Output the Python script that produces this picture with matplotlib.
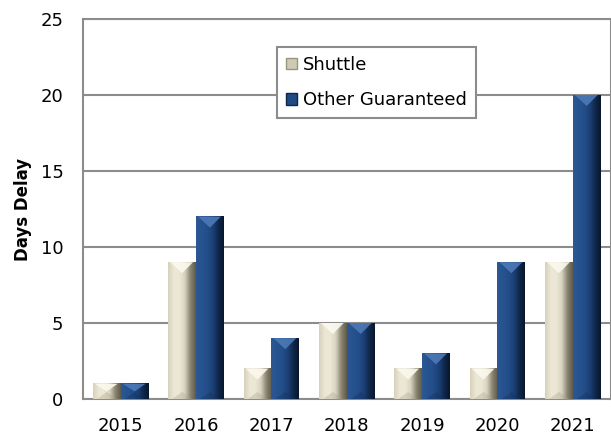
import matplotlib
matplotlib.use('agg')
import matplotlib.pyplot as plt
from matplotlib.colors import LinearSegmentedColormap
from matplotlib.patches import Polygon, Patch
import numpy as np

years = ['2015', '2016', '2017', '2018', '2019', '2020', '2021']
shuttle = [1, 9, 2, 5, 2, 2, 9]
other_guaranteed = [1, 12, 4, 5, 3, 9, 20]

plt.rcParams['font.family'] = ['DejaVu Sans']

fig = plt.figure(figsize=(6.11, 4.37), dpi=100)
ax = fig.add_axes([83/611, 38/437, 527.5/611, 380/437])
ax.set_xlim(-0.5, 6.5)
ax.set_ylim(0, 25)

x = np.arange(len(years))
w = 0.37

# shading stops across a bar, left to right
shuttle_cmap = LinearSegmentedColormap.from_list(
    'sh', ['#d6d1bb', '#ebe7d4', '#ece8d6', '#d9d4bf', '#8c8772', '#5f5b4a'])
blue_cmap = LinearSegmentedColormap.from_list(
    'bl', ['#2d5893', '#26538f', '#234e8a', '#1c4177', '#10284c', '#08172d'])
styles = {
    'Shuttle': (shuttle_cmap, '#fbf9ef', '#a8a38c'),
    'Other Guaranteed': (blue_cmap, '#4d79b6', '#132f58'),
}

# pixel -> data conversion for the bevel size
px_x = 1.0 / (ax.transData.transform((1, 0))[0] - ax.transData.transform((0, 0))[0])
px_y = 1.0 / (ax.transData.transform((0, 1))[1] - ax.transData.transform((0, 0))[1])

grad = np.linspace(0, 1, 64).reshape(1, -1)


def bevel_bars(xpos, vals, name):
    cmap, top_col, bot_col = styles[name]
    bars = ax.bar(xpos, vals, w, color='none', edgecolor='none', zorder=3)
    for b in bars:
        x0, bw, h = b.get_x(), b.get_width(), b.get_height()
        x1, xc = x0 + bw, x0 + bw / 2
        ax.imshow(grad, cmap=cmap, aspect='auto', extent=(x0, x1, 0, h),
                  zorder=3, interpolation='bilinear')
        d = min(11 * px_y, h / 2)
        ax.add_patch(Polygon([(x0 + 2*px_x, h), (x1 - 3*px_x, h), (xc, h - d)],
                             closed=True, facecolor=top_col, edgecolor='none',
                             alpha=0.9, zorder=4))
        ax.add_patch(Polygon([(x0 + 4*px_x, 0), (x1 - 4*px_x, 0), (xc, min(7 * px_y, h / 2))],
                             closed=True, facecolor=bot_col, edgecolor='none',
                             alpha=0.35, zorder=4))


bevel_bars(x - w / 2, shuttle, 'Shuttle')
bevel_bars(x + w / 2, other_guaranteed, 'Other Guaranteed')
ax.set_xlim(-0.5, 6.5)
ax.set_ylim(0, 25)

ax.set_yticks([0, 5, 10, 15, 20, 25])
ax.set_xticks(x)
ax.set_xticklabels(years)
ax.tick_params(length=0, labelsize=13, colors='black')
ax.tick_params(axis='y', pad=14)
ax.tick_params(axis='x', pad=13)
ax.yaxis.grid(True, color='#8c8c8c', linewidth=1.5)
ax.set_axisbelow(True)
for s in ax.spines.values():
    s.set_color('#8c8c8c')
    s.set_linewidth(1.5)

ax.set_ylabel('Days Delay', fontsize=12, fontweight='bold', labelpad=6)

handles = [Patch(facecolor='#cfcab5', edgecolor='#9a957f', label='Shuttle'),
           Patch(facecolor='#1f4a84', edgecolor='#0f2748', label='Other Guaranteed')]
leg = fig.legend(handles=handles, loc='upper left', bbox_to_anchor=(277/611, 1 - 47/437),
                 borderaxespad=0, fontsize=13, frameon=True, fancybox=False,
                 handlelength=0.6, handleheight=0.6, handletextpad=0.35,
                 labelspacing=0.95, borderpad=0.5)
leg.get_frame().set_edgecolor('#8c8c8c')
leg.get_frame().set_linewidth(1.5)
leg.get_frame().set_facecolor('white')
leg.get_frame().set_alpha(1)

fig.savefig('out.png', dpi=100)
